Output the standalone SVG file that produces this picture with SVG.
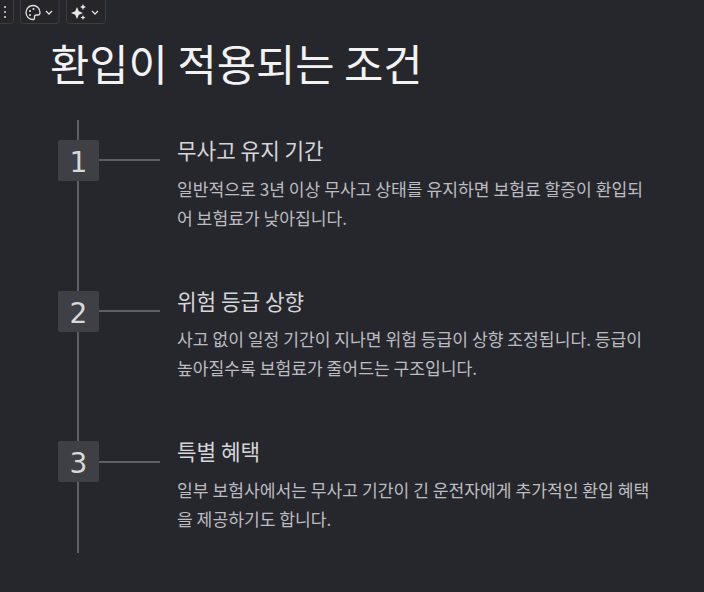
<svg xmlns="http://www.w3.org/2000/svg" width="704" height="592" viewBox="0 0 704 592">
<style>
text{font-family:"Noto Sans CJK KR","Noto Sans",sans-serif}
.t{font-size:42.7px;fill:#f2f2f2}
.h{font-size:21.3px;fill:#d6d6d8}
.b{font-size:17.15px;fill:#bdbdc0}
.n{font-family:"DejaVu Sans",sans-serif;font-size:28px;fill:#d8d8d6;text-anchor:middle}
.box{fill:#3f4046}
.ln{stroke:#5f6066;stroke-width:2;fill:none}
.tb{fill:#26262a;stroke:#3d3d40;stroke-width:1}
.ic{stroke:#e0e0e0;stroke-width:1.3;fill:none}
</style>
<rect width="704" height="592" fill="#26272d"/>
<g id="toolbar">
<rect class="tb" x="-6" y="-6" width="19.500" height="29.500" rx="3"/>
<circle cx="5" cy="7" r="1" fill="#ddd"/><circle cx="5" cy="12" r="1" fill="#ddd"/><circle cx="5" cy="17" r="1" fill="#ddd"/>
<rect class="tb" x="20.500" y="-6" width="38.500" height="29.500" rx="3"/>
<path class="ic" d="M33 5.500a7 7 0 1 0 0 14c2 0 1.500-2 1.500-3s1-1.500 2-1.500h1.500c1.500 0 2-1 2-2.500 0-4-3-7-7-7z"/>
<circle cx="30" cy="11" r="1" fill="#e0e0e0"/><circle cx="33.500" cy="9" r="1" fill="#e0e0e0"/><circle cx="30" cy="15" r="1" fill="#e0e0e0"/>
<path class="ic" d="M46 11l3 3 3-3"/>
<rect class="tb" x="66.500" y="-6" width="39" height="29.500" rx="3"/>
<path d="M77 7l1.800 4.200L83 13l-4.200 1.800L77 19l-1.800-4.200L71 13l4.200-1.800z" fill="#e8e8e8"/>
<path d="M83 4l.9 2.100L86 7l-2.100.9L83 10l-.9-2.100L80 7l2.100-.9zM83 15l.8 1.700 1.700.8-1.700.8L83 20l-.8-1.700-1.700-.8 1.700-.8z" fill="#e8e8e8"/>
<path class="ic" d="M92 11l3 3 3-3"/>
</g>
<text id="title" class="t" x="50" y="81">환입이 적용되는 조건</text>
<g id="connectors">
<path class="ln" d="M78 120V553"/>
<path class="ln" d="M99 160H160"/>
<path class="ln" d="M99 311H160"/>
<path class="ln" d="M99 462H160"/>
</g>
<g id="node-1">
<rect class="box" x="58" y="140" width="41" height="41" rx="2"/>
<text class="n" x="78.500" y="172">1</text>
<text class="h" x="177" y="159">무사고 유지 기간</text>
<text class="b" x="177" y="196">일반적으로 3년 이상 무사고 상태를 유지하면 보험료 할증이 환입되</text>
<text class="b" x="177" y="225">어 보험료가 낮아집니다.</text>
</g>
<g id="node-2">
<rect class="box" x="58" y="291" width="41" height="41" rx="2"/>
<text class="n" x="78.500" y="323">2</text>
<text class="h" x="177" y="310">위험 등급 상향</text>
<text class="b" x="177" y="346">사고 없이 일정 기간이 지나면 위험 등급이 상향 조정됩니다. 등급이</text>
<text class="b" x="177" y="375">높아질수록 보험료가 줄어드는 구조입니다.</text>
</g>
<g id="node-3">
<rect class="box" x="58" y="441" width="41" height="41" rx="2"/>
<text class="n" x="78.500" y="473">3</text>
<text class="h" x="177" y="460">특별 혜택</text>
<text class="b" x="177" y="497">일부 보험사에서는 무사고 기간이 긴 운전자에게 추가적인 환입 혜택</text>
<text class="b" x="177" y="526">을 제공하기도 합니다.</text>
</g>
</svg>
